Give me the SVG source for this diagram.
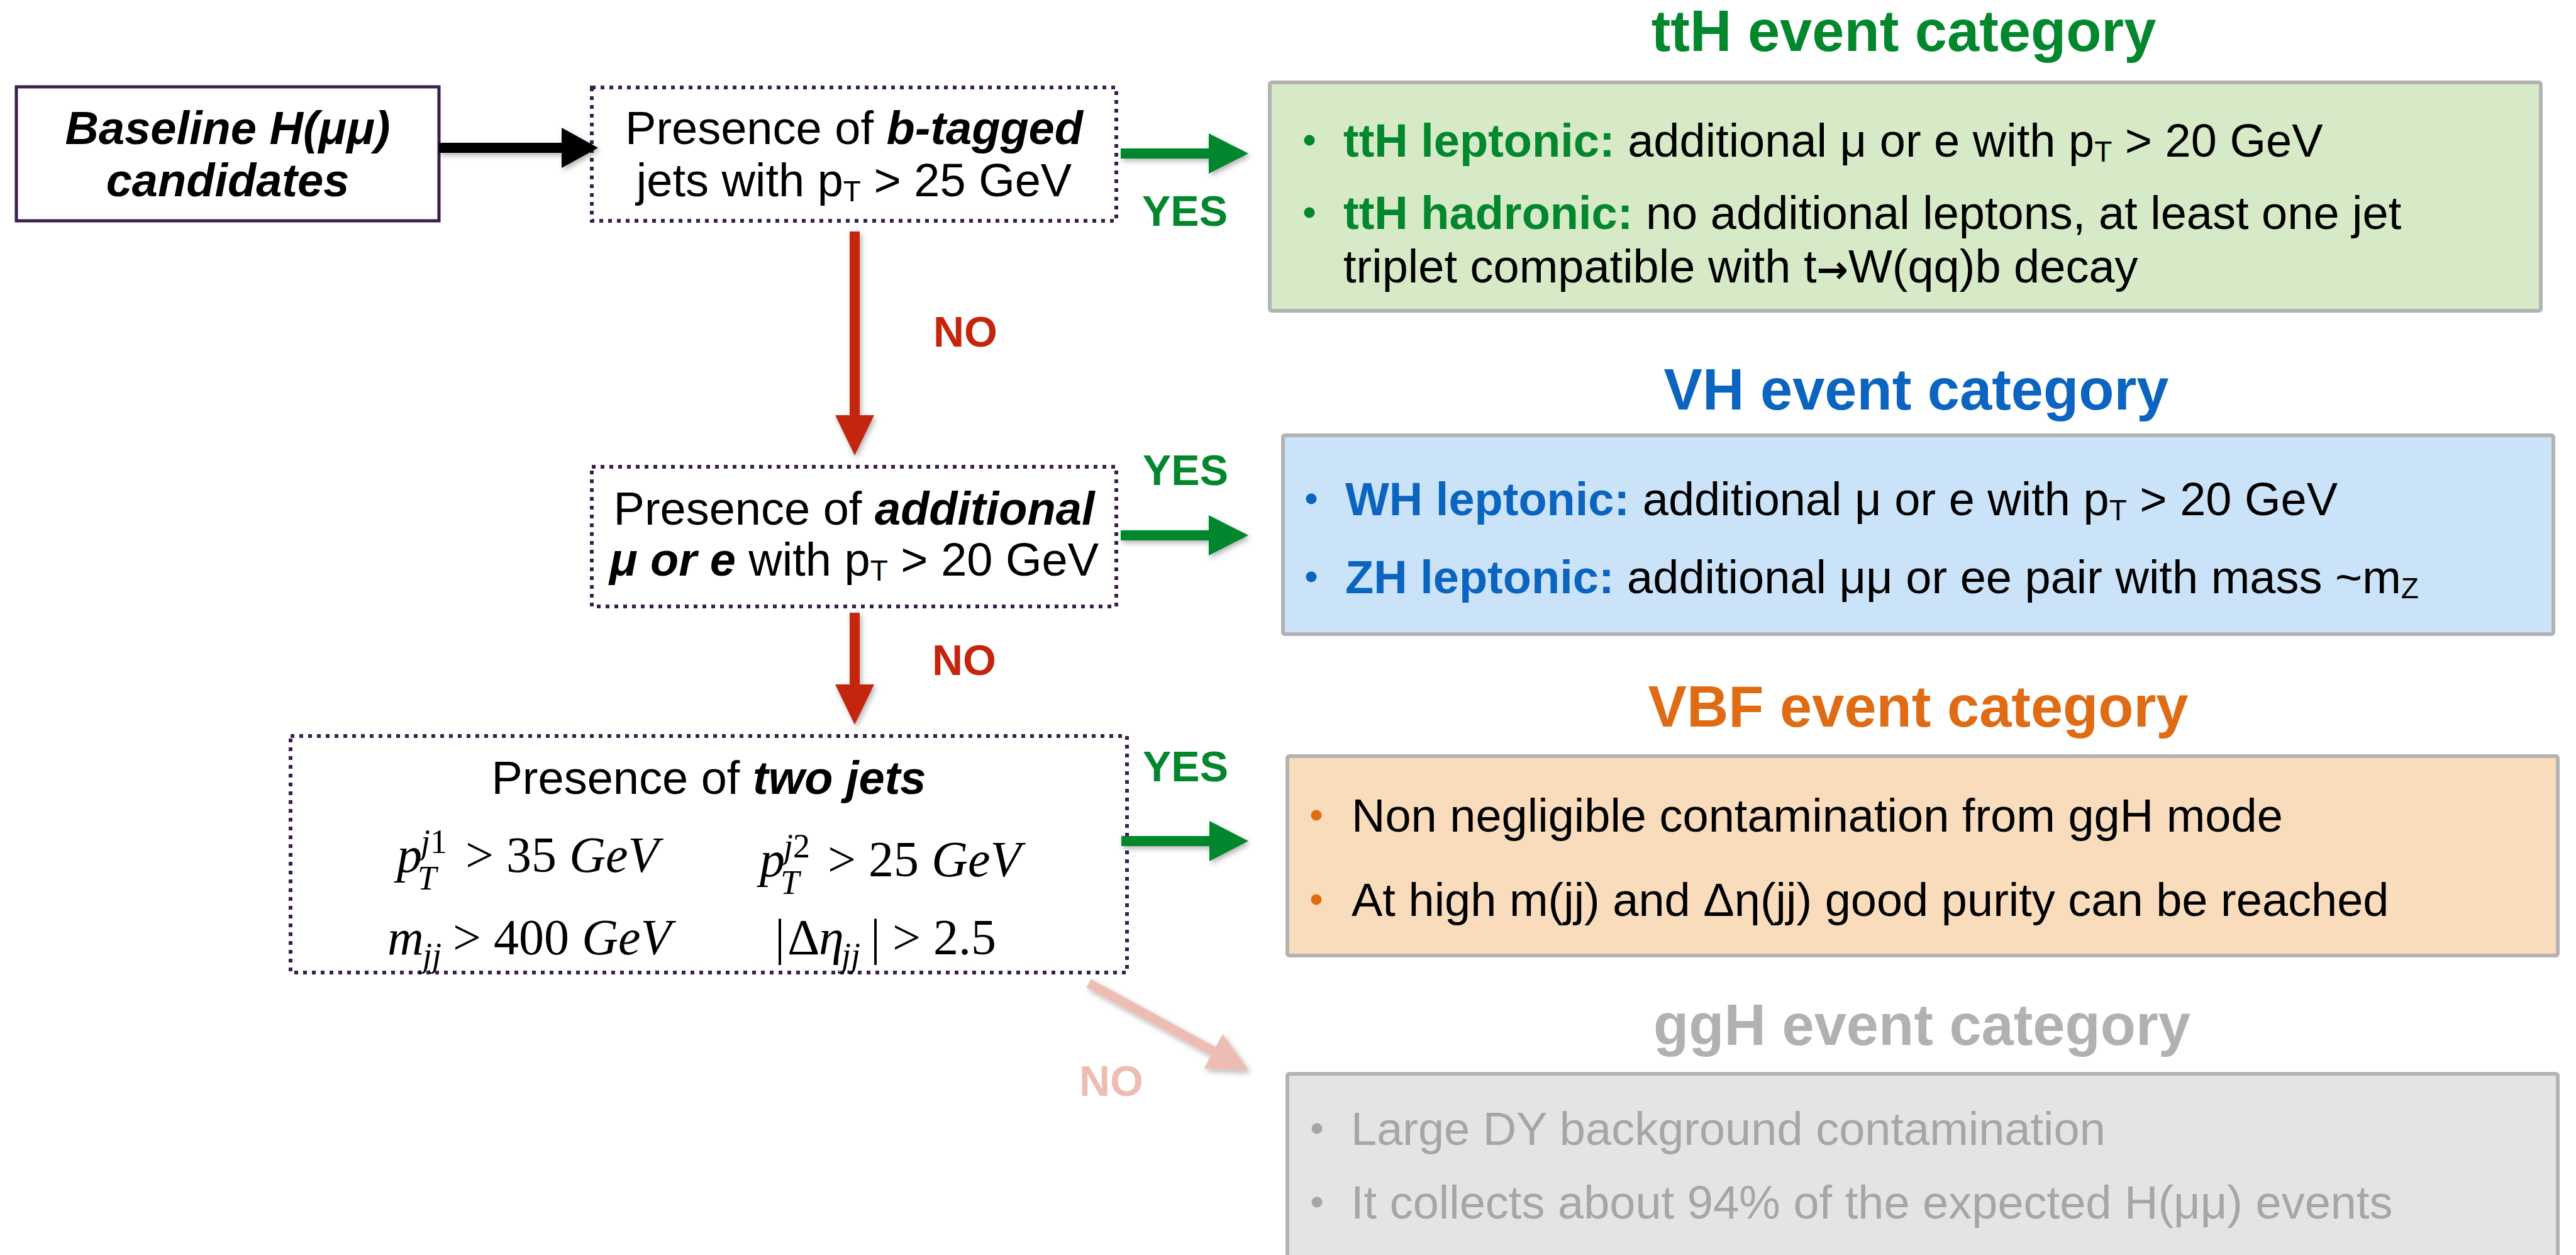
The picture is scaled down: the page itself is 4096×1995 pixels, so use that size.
<svg xmlns="http://www.w3.org/2000/svg" width="4096" height="1995" viewBox="0 0 4096 1995">
  <defs>
    <filter id="shadow" x="-20%" y="-20%" width="140%" height="140%">
      <feDropShadow dx="3" dy="4" stdDeviation="4" flood-color="#000" flood-opacity="0.3"/>
    </filter>
    <style>
      text { font-family: "Liberation Sans", Arial, Helvetica, sans-serif; font-size: 74px; fill: #000; }
      .bi { font-weight: bold; font-style: italic; }
      .b { font-weight: bold; }
      .arrow-glyph { font-family: "DejaVu Sans", sans-serif; font-size: 60px; font-weight: bold; }
      .title { font-size: 92px; font-weight: bold; text-anchor: middle; }
      .label { font-size: 68px; font-weight: bold; text-anchor: middle; }
      .mid { text-anchor: middle; }
      .math { font-family: "Liberation Serif", "Times New Roman", serif; font-size: 80px; }
      .math .it { font-style: italic; }
      .mathsub { font-family: "Liberation Serif", "Times New Roman", serif; font-size: 54px; font-style: italic; }
      .flow-solid { fill: #fff; stroke: #3a1f4e; stroke-width: 5; }
      .flow-dotted { fill: #fff; stroke: #3a1f4e; stroke-width: 6; stroke-dasharray: 6 8; }
      .cat { stroke: #b3b3b3; stroke-width: 6; }
      .green { fill: #03872d; }
      .blue { fill: #0b64c0; }
      .orange { fill: #df6c14; }
      .red { fill: #c4250b; }
      .pink { fill: #edbdb3; }
      .grey-title { fill: #b1b1b1; }
      .grey { fill: #a6a6a6; }
    </style>
  </defs>

  <rect width="4096" height="1995" fill="#fff"/>

  <!-- decision flow on the left -->
  <g id="baseline">
    <rect class="flow-solid" x="26" y="138" width="672" height="213"/>
    <text class="bi mid" x="362" y="229">Baseline H(μμ)</text>
    <text class="bi mid" x="362" y="312">candidates</text>
  </g>

  <g id="btag">
    <rect class="flow-dotted" x="941" y="139" width="834" height="212"/>
    <text class="mid" x="1358" y="229">Presence of <tspan class="bi">b-tagged</tspan></text>
    <text class="mid" x="1358" y="312">jets with p<tspan font-size="46" dy="8">T</tspan><tspan dy="-8"> &gt; 25 GeV</tspan></text>
  </g>

  <g id="lepton">
    <rect class="flow-dotted" x="941" y="742" width="834" height="222"/>
    <text class="mid" x="1358" y="834">Presence of <tspan class="bi">additional</tspan></text>
    <text class="mid" x="1358" y="915"><tspan class="bi">μ or e</tspan> with p<tspan font-size="46" dy="8">T</tspan><tspan dy="-8"> &gt; 20 GeV</tspan></text>
  </g>

  <g id="twojets">
    <rect class="flow-dotted" x="462" y="1170" width="1330" height="376"/>
    <text class="mid" x="1127" y="1262">Presence of <tspan class="bi">two jets</tspan></text>
    <!-- leading jet pT -->
    <text class="math"><tspan class="it" x="631" y="1386">p</tspan><tspan x="740" y="1386">&gt; 35 </tspan><tspan class="it">GeV</tspan></text>
    <text class="mathsub" x="669" y="1356">j<tspan font-style="normal">1</tspan></text>
    <text class="mathsub" x="664" y="1414">T</text>
    <!-- second jet pT -->
    <text class="math"><tspan class="it" x="1208" y="1393">p</tspan><tspan x="1316" y="1393">&gt; 25 </tspan><tspan class="it">GeV</tspan></text>
    <text class="mathsub" x="1246" y="1363">j<tspan font-style="normal">2</tspan></text>
    <text class="mathsub" x="1241" y="1421">T</text>
    <!-- dijet mass -->
    <text class="math"><tspan class="it" x="616" y="1517">m</tspan><tspan x="720" y="1517">&gt; 400 </tspan><tspan class="it">GeV</tspan></text>
    <text class="mathsub" x="672" y="1536">jj</text>
    <!-- pseudorapidity gap -->
    <text class="math"><tspan x="1232" y="1517">|</tspan><tspan x="1252" y="1517">Δ</tspan><tspan class="it" x="1302" y="1517">η</tspan><tspan x="1384" y="1517">|</tspan><tspan x="1419" y="1517">&gt; 2.5</tspan></text>
    <text class="mathsub" x="1338" y="1536">jj</text>
  </g>

  <!-- event categories on the right -->
  <g id="tth">
    <text class="title green" x="3027" y="81">ttH event category</text>
    <rect class="cat" x="2019" y="131" width="2021" height="363" rx="3" fill="#d7eac7"/>
    <circle class="green" cx="2082" cy="223" r="8.5"/>
    <circle class="green" cx="2082" cy="338" r="8.5"/>
    <text x="2136" y="249"><tspan class="b green">ttH leptonic:</tspan> additional μ or e with p<tspan font-size="46" dy="8">T</tspan><tspan dy="-8"> &gt; 20 GeV</tspan></text>
    <text x="2136" y="364"><tspan class="b green">ttH hadronic:</tspan> no additional leptons, at least one jet</text>
    <text x="2136" y="449">triplet compatible with t<tspan class="arrow-glyph">→</tspan>W(qq)b decay</text>
  </g>

  <g id="vh">
    <text class="title blue" x="3047" y="651">VH event category</text>
    <rect class="cat" x="2040" y="692" width="2020" height="316" rx="3" fill="#cbe3f8"/>
    <circle class="blue" cx="2085" cy="793" r="8.5"/>
    <circle class="blue" cx="2085" cy="917" r="8.5"/>
    <text x="2139" y="819"><tspan class="b blue">WH leptonic:</tspan> additional μ or e with p<tspan font-size="46" dy="8">T</tspan><tspan dy="-8"> &gt; 20 GeV</tspan></text>
    <text x="2139" y="943"><tspan class="b blue">ZH leptonic:</tspan> additional μμ or ee pair with mass ~m<tspan font-size="46" dy="8">Z</tspan></text>
  </g>

  <g id="vbf">
    <text class="title orange" x="3050" y="1155">VBF event category</text>
    <rect class="cat" x="2047" y="1202" width="2020" height="317" rx="3" fill="#f9dcbb"/>
    <circle class="orange" cx="2093" cy="1296" r="8.5"/>
    <circle class="orange" cx="2093" cy="1430" r="8.5"/>
    <text x="2149" y="1322">Non negligible contamination from ggH mode</text>
    <text x="2149" y="1456">At high m(jj) and Δη(jj) good purity can be reached</text>
  </g>

  <g id="ggh">
    <text class="title grey-title" x="3056" y="1661">ggH event category</text>
    <rect class="cat" x="2047" y="1707" width="2020" height="330" rx="3" fill="#e3e4e4"/>
    <circle class="grey" cx="2094" cy="1794" r="8.5"/>
    <circle class="grey" cx="2094" cy="1911" r="8.5"/>
    <text class="grey" x="2148" y="1820">Large DY background contamination</text>
    <text class="grey" x="2148" y="1937">It collects about 94% of the expected H(μμ) events</text>
  </g>

  <!-- connectors -->
  <g id="connectors" filter="url(#shadow)">
    <path fill="#000" d="M698,227 H893 V203 L951,235 L893,267 V243 H698 Z"/>
    <path class="green" d="M1782,236 H1922 V212 L1985,244 L1922,276 V252 H1782 Z"/>
    <path class="green" d="M1782,843 H1922 V819 L1985,851 L1922,883 V859 H1782 Z"/>
    <path class="green" d="M1783,1329 H1923 V1305 L1985,1337 L1923,1369 V1345 H1783 Z"/>
    <path class="red" d="M1351,368 V660 H1328 L1359,724 L1390,660 H1367 V368 Z"/>
    <path class="red" d="M1351,974 V1088 H1328 L1359,1152 L1390,1088 H1367 V974 Z"/>
    <path class="pink" transform="translate(1731,1563) rotate(28.6)" d="M0,-7.5 H226 V-31 L290,0 L226,31 V7.5 H0 Z"/>
  </g>

  <g id="connector-labels">
    <text class="label green" x="1884" y="359">YES</text>
    <text class="label green" x="1885" y="771">YES</text>
    <text class="label green" x="1885" y="1242">YES</text>
    <text class="label red" x="1535" y="551">NO</text>
    <text class="label red" x="1533" y="1073">NO</text>
    <text class="label pink" x="1767" y="1742">NO</text>
  </g>
</svg>
